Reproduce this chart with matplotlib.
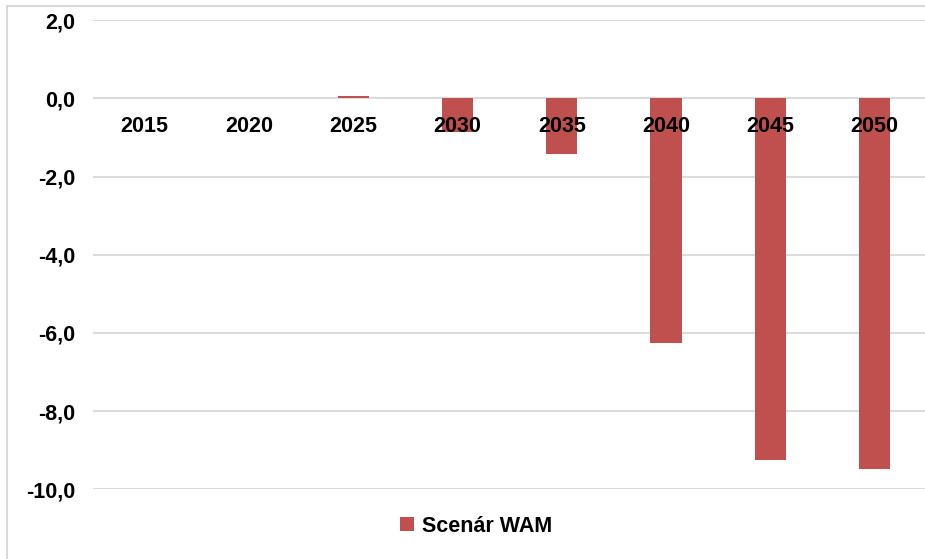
import matplotlib
matplotlib.use("Agg")
import matplotlib.pyplot as plt
from matplotlib.patches import Rectangle, Patch

years = ["2015", "2020", "2025", "2030", "2035", "2040", "2045", "2050"]
wam = [0.0, 0.0, 0.06, -0.85, -1.42, -6.26, -9.25, -9.48]
yticks = [2.0, 0.0, -2.0, -4.0, -6.0, -8.0, -10.0]
ytick_labels = ["2,0", "0,0", "-2,0", "-4,0", "-6,0", "-8,0", "-10,0"]
series_name = "Scenár WAM"

plt.rcParams['font.family'] = ['Liberation Sans', 'DejaVu Sans']
FS = 15.5

W, H = 925, 559
fig = plt.figure(figsize=(W / 100, H / 100), dpi=100)
fig.patch.set_facecolor("white")

# outer frame
fig.add_artist(Rectangle((7 / W, -0.05), 1.2, (H - 6) / H + 0.05, transform=fig.transFigure,
                         fill=False, edgecolor="#d9d9d9", linewidth=1.5))

left_px, right_px = 92.6, 926.6
top_px, bot_px = 20.1, 489.3
ax = fig.add_axes([left_px / W, (H - bot_px) / H, (right_px - left_px) / W, (bot_px - top_px) / H])

# gridlines beneath bars
for yv in yticks:
    ax.axhline(yv, color="#d9d9d9", linewidth=1.3, zorder=0.2)

x = list(range(len(years)))
ax.bar(x, wam, width=0.3, color="#C0504D", linewidth=0, zorder=1)

ax.set_xlim(-0.5, len(years) - 0.5)
ax.set_ylim(-10, 2)
ax.set_yticks(yticks)
ax.set_yticklabels(ytick_labels)
ax.set_xticks(x)
ax.set_xticklabels(years)

ax.grid(False)
for s in ["top", "right", "left"]:
    ax.spines[s].set_visible(False)
ax.spines["bottom"].set_position(("data", 0))
ax.spines["bottom"].set_visible(False)

ax.set_axisbelow(False)
ax.tick_params(axis="y", length=0, pad=12.5, labelsize=FS)
ax.tick_params(axis="x", length=0, pad=13, labelsize=FS)
for lbl in ax.get_xticklabels() + ax.get_yticklabels():
    lbl.set_fontweight("bold")

handle = Patch(facecolor="#C0504D", edgecolor="none")
fig.legend([handle], [series_name], loc="center",
           bbox_to_anchor=(476 / W, (H - 526) / H), frameon=False,
           prop={"weight": "bold", "size": FS}, handlelength=0.65, handleheight=0.65,
           handletextpad=0.4)

fig.savefig("out.png", dpi=100, facecolor="white")
